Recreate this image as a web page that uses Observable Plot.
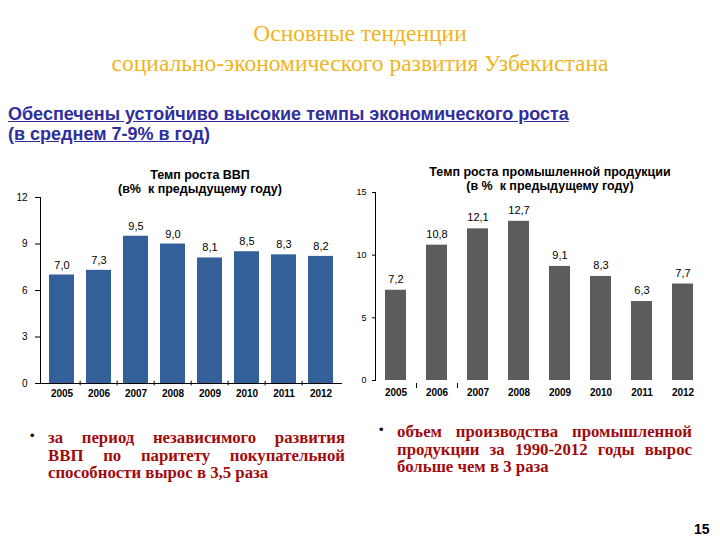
<!DOCTYPE html>
<html><head><meta charset="utf-8">
<script src="https://cdn.jsdelivr.net/npm/d3@7"></script>
<script src="https://cdn.jsdelivr.net/npm/@observablehq/plot@0.6"></script>
<style>
body{margin:0;background:#fff;width:720px;height:540px;position:relative;overflow:hidden;font-family:"Liberation Sans",Arial,sans-serif;}
.abs{position:absolute;}
#title{left:0;width:720px;top:18px;text-align:center;font-family:"Liberation Serif","Times New Roman",serif;font-size:23.5px;line-height:30px;color:#efb520;}
#sub{left:8px;top:104px;font-weight:bold;font-size:18px;line-height:20px;color:#2e2e9c;text-decoration:underline;}
.ct{text-align:center;font-weight:bold;font-size:12.5px;line-height:14px;color:#000;}
.bul{font-family:"Liberation Serif","Times New Roman",serif;font-weight:bold;font-size:16.8px;line-height:17.5px;color:#a00c0c;}
.bul div{text-align:justify;text-align-last:justify;white-space:nowrap;}
.bul div.last{text-align-last:left;}
.dot{font-family:"Liberation Sans",Arial,sans-serif;font-size:13px;color:#000;}
#pg{left:694px;top:521px;font-weight:bold;font-size:14px;}
</style></head>
<body>
<div id="title" class="abs">Основные тенденции<br>социально-экономического развития Узбекистана</div>
<div id="sub" class="abs">Обеспечены устойчиво высокие темпы экономического роста<br>(в среднем 7-9% в год)</div>
<div id="ct1" class="abs ct" style="left:100px;width:200px;top:168px;">Темп роста ВВП<br>(в%&nbsp; к предыдущему году)</div>
<div id="ct2" class="abs ct" style="left:400px;width:300px;top:165px;">Темп роста промышленной продукции<br>(в %&nbsp; к предыдущему году)</div>
<div id="c1" class="abs" style="left:0;top:160px;"></div>
<div id="c2" class="abs" style="left:350px;top:160px;"></div>
<div class="abs dot" style="left:30px;top:428px;">•</div>
<div class="abs bul" style="left:48px;top:429px;width:297px;"><div>за период независимого развития</div><div>ВВП по паритету покупательной</div><div class="last">способности вырос в 3,5 раза</div></div>
<div class="abs dot" style="left:379px;top:422px;">•</div>
<div class="abs bul" style="left:397px;top:423px;width:295px;"><div>объем производства промышленной</div><div>продукции за 1990-2012 годы вырос</div><div class="last">больше чем в 3 раза</div></div>
<div id="pg" class="abs">15</div>
<script>
const years = ["2005","2006","2007","2008","2009","2010","2011","2012"];
const gdp = [7.0, 7.3, 9.5, 9.0, 8.1, 8.5, 8.3, 8.2];
const industry = [7.2, 10.8, 12.1, 12.7, 9.1, 8.3, 6.3, 7.7];
const gdpTicks = [0, 3, 6, 9, 12];
const indTicks = [0, 5, 10, 15];

const fmt = v => v.toFixed(1).replace(".", ",");
const d1 = years.map((y, i) => ({year: y, value: gdp[i]}));
const d2 = years.map((y, i) => ({year: y, value: industry[i]}));

const font = "Liberation Sans, Arial, sans-serif";

const step1 = 302 / 8;
const p1 = Plot.plot({
  width: 350, height: 240,
  marginLeft: 40, marginRight: 8, marginTop: 37, marginBottom: 17,
  style: {fontFamily: font, fontSize: "10px", color: "#000", background: "transparent"},
  x: {domain: years, paddingInner: 0.33, paddingOuter: 0.165, label: null},
  y: {domain: [0, 12], label: null},
  marks: [
    Plot.barY(d1, {x: "year", y: "value", fill: "#34609a"}),
    Plot.ruleY([0], {stroke: "#000", strokeWidth: 1}),
    Plot.frame({anchor: "left", stroke: "#000"}),
    Plot.ruleX(years.slice(1), {x: d => d, dx: -step1 / 2, y1: -0.15, y2: 0.15, stroke: "#000"}),
    Plot.axisY({ticks: gdpTicks, tickSize: 5, tickPadding: 8, fontSize: 10, label: null}),
    Plot.axisX({tickSize: 0, tickPadding: 6, fontWeight: "bold", fontSize: 10, label: null}),
    Plot.text(d1, {x: "year", y: "value", text: d => fmt(d.value), dy: -10, fontSize: 11, fill: "#000"})
  ]
});
document.getElementById("c1").appendChild(p1);

const step2 = 328 / 8;
const p2 = Plot.plot({
  width: 370, height: 240,
  marginLeft: 25, marginRight: 17, marginTop: 32, marginBottom: 20,
  style: {fontFamily: font, fontSize: "10px", color: "#000", background: "transparent"},
  x: {domain: years, paddingInner: 0.5, paddingOuter: 0.25, label: null},
  y: {domain: [0, 15], label: null},
  marks: [
    Plot.barY(d2, {x: "year", y: "value", fill: "#5c5c5c"}),
    Plot.frame({anchor: "left", stroke: "#000"}),
    Plot.ruleX(years.slice(1, 3), {x: d => d, dx: -step2 / 2, y1: -0.4, y2: 0, dy: 3, stroke: "#000"}),
    Plot.axisY({ticks: indTicks, tickSize: 3, tickPadding: 6, fontSize: 9, label: null}),
    Plot.axisX({tickSize: 0, tickPadding: 8, fontWeight: "bold", fontSize: 10, label: null}),
    Plot.text(d2, {x: "year", y: "value", text: d => fmt(d.value), dy: -11, fontSize: 11, fill: "#000"})
  ]
});
document.getElementById("c2").appendChild(p2);
</script>
</body></html>
